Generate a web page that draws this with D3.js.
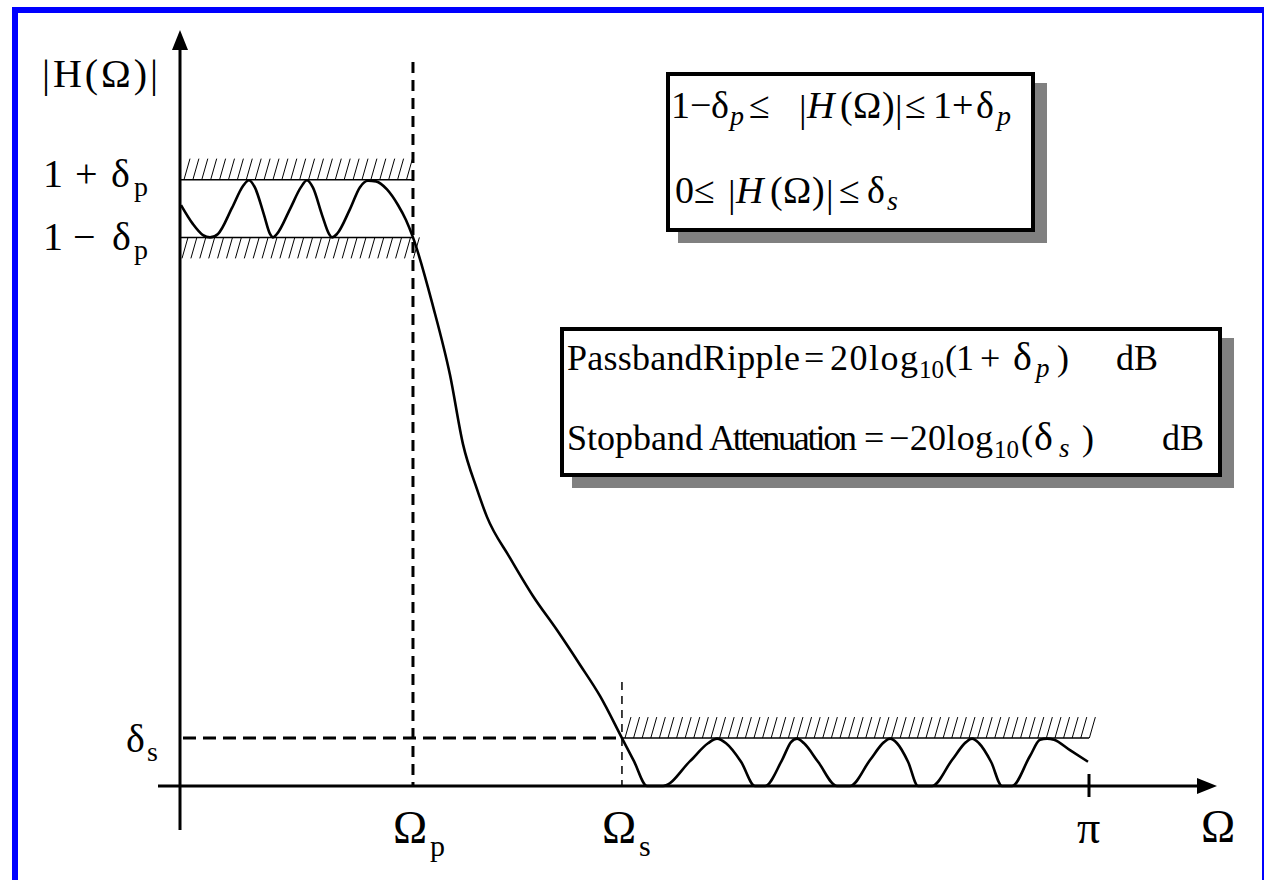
<!DOCTYPE html>
<html>
<head>
<meta charset="utf-8">
<script src="https://cdn.jsdelivr.net/npm/d3@7"></script>
<style>
  html, body { margin: 0; padding: 0; background: #fff; }
  svg { display: block; }
</style>
</head>
<body>
<svg id="chart" width="1264" height="880"></svg>
<script>
// Lowpass filter magnitude-response specification sketch.
// Frequency is expressed as a fraction of pi (0 .. 1).

const deltaP = 0.05;          // passband ripple
const deltaS = 0.083;         // stopband level
const omegaP = 0.2563;        // passband edge
const omegaS = 0.4862;        // stopband edge

// |H(Ω)| samples: passband ripples, transition band, stopband ripples
const responseFreq = [
  0.0011, 0.0143, 0.0253, 0.0330, 0.0418, 0.0572, 0.0693, 0.0759, 0.0825, 0.0924,
  0.0990, 0.1023, 0.1067, 0.1210, 0.1331, 0.1397, 0.1463, 0.1562, 0.1639, 0.1672,
  0.1727, 0.1870, 0.1980, 0.2068, 0.2156, 0.2277, 0.2398, 0.2486, 0.2563,
  0.2783, 0.2970, 0.3113, 0.3267, 0.3377, 0.3630, 0.3883, 0.4147, 0.4400, 0.4620, 0.4862,
  0.4994, 0.5138, 0.5314, 0.5611, 0.5809, 0.5908, 0.6007, 0.6172, 0.6326, 0.6436,
  0.6623, 0.6722, 0.6788, 0.6865, 0.7019, 0.7228, 0.7371, 0.7591, 0.7745, 0.7811,
  0.7888, 0.8009, 0.8119, 0.8273, 0.8493, 0.8647, 0.8713, 0.8790, 0.8922, 0.9043,
  0.9153, 0.9351, 0.9461, 0.9538, 0.9615, 0.9791, 0.9989
];
const responseMag = [
  1.006, 0.973, 0.954, 0.950, 0.956, 1.001, 1.039, 1.049, 1.036, 0.989,
  0.956, 0.950, 0.956, 0.999, 1.037, 1.049, 1.036, 0.989, 0.956, 0.950,
  0.956, 0.999, 1.037, 1.048, 1.047, 1.033, 1.006, 0.980, 0.950,
  0.831, 0.712, 0.592, 0.514, 0.466, 0.395, 0.329, 0.270, 0.210, 0.156, 0.083,
  0.043, 0.000, 0.000, 0.043, 0.074, 0.082, 0.074, 0.042, 0.000, 0.000,
  0.045, 0.076, 0.082, 0.074, 0.042, 0.000, 0.000, 0.045, 0.076, 0.082,
  0.074, 0.042, 0.000, 0.000, 0.045, 0.076, 0.082, 0.074, 0.042, 0.000,
  0.000, 0.052, 0.080, 0.082, 0.080, 0.062, 0.042
];

// Axis annotations
const xTickValues = [omegaP, omegaS, 1];
const xTickLabels = [["Ω", "p"], ["Ω", "s"], ["π", ""]];
const yTickValues = [1 + deltaP, 1 - deltaP, deltaS];
const yTickLabels = [["1", "+", "δ", "p"], ["1", "−", "δ", "p"], ["", "", "δ", "s"]];
const yAxisTitle = "|H(Ω)|";
const xAxisTitle = "Ω";

const FONT = "'Liberation Serif','Times New Roman',serif";

const svg = d3.select("#chart");

// frame
svg.append("rect")
  .attr("x", 15).attr("y", 10).attr("width", 1250).attr("height", 900)
  .attr("fill", "#fff").attr("stroke", "#0000ff").attr("stroke-width", 6);

const x = d3.scaleLinear().domain([0, 1]).range([180, 1089]);
const y = d3.scaleLinear().domain([0, 1]).range([786, 208.5]);

const x0 = x(0), y0 = y(0);

// --- tolerance bands -------------------------------------------------
const hatch = svg.append("g").attr("stroke", "#000").attr("stroke-width", 1);
function hatchBand(xa, xb, yBase, height, step, startOff) {
  const slant = 6;
  d3.range(xa + startOff, xb - 1, step).forEach(xi => {
    hatch.append("line")
      .attr("x1", xi).attr("y1", yBase)
      .attr("x2", xi + slant).attr("y2", yBase - height);
  });
}
// above 1+δp
hatchBand(x(0), x(omegaP) + 3, y(1 + deltaP), 21, 8.9, 4);
// below 1-δp
hatchBand(x(0), x(omegaP) + 3, y(1 - deltaP) + 21, 21, 8.9, 2);
// above δs in stopband
hatchBand(x(omegaS), x(1) + 2, y(deltaS), 21, 8.6, 3);

const bandLines = svg.append("g").attr("stroke", "#000").attr("stroke-width", 1.5);
[1 + deltaP, 1 - deltaP].forEach(v => {
  bandLines.append("line")
    .attr("x1", x(0)).attr("x2", x(omegaP))
    .attr("y1", y(v)).attr("y2", y(v));
});
bandLines.append("line")
  .attr("x1", x(omegaS)).attr("x2", x(1))
  .attr("y1", y(deltaS)).attr("y2", y(deltaS));

// --- guide lines ---------------------------------------------------
svg.append("line")
  .attr("x1", x(omegaP)).attr("x2", x(omegaP))
  .attr("y1", 62).attr("y2", y0)
  .attr("stroke", "#000").attr("stroke-width", 3).attr("stroke-dasharray", "11,7");
svg.append("line")
  .attr("x1", x0 + 3).attr("x2", x(omegaS))
  .attr("y1", y(deltaS)).attr("y2", y(deltaS))
  .attr("stroke", "#000").attr("stroke-width", 3).attr("stroke-dasharray", "13,7");
svg.append("line")
  .attr("x1", x(omegaS)).attr("x2", x(omegaS))
  .attr("y1", 682).attr("y2", y0)
  .attr("stroke", "#000").attr("stroke-width", 1.5).attr("stroke-dasharray", "8,6");

// --- axes ------------------------------------------------------------
const axes = svg.append("g").attr("stroke", "#000").attr("stroke-width", 3);
axes.append("line").attr("x1", x0).attr("x2", x0).attr("y1", 46).attr("y2", 830);
axes.append("line").attr("x1", 158).attr("x2", 1200).attr("y1", y0).attr("y2", y0);
svg.append("path")
  .attr("d", `M${x0},30 L${x0 - 8},50 L${x0 + 8},50 Z`).attr("fill", "#000");
svg.append("path")
  .attr("d", `M1217,${y0} L1197,${y0 - 8} L1197,${y0 + 8} Z`).attr("fill", "#000");
// tick at π
axes.append("line").attr("x1", x(1)).attr("x2", x(1))
  .attr("y1", y0 - 12).attr("y2", y0 + 11);

// --- response curve -----------------------------------------------
const pts = responseFreq.map((f, i) => [f, responseMag[i]]);
const line = d3.line().x(d => x(d[0])).y(d => y(d[1])).curve(d3.curveMonotoneX);
svg.append("path")
  .attr("d", line(pts))
  .attr("fill", "none").attr("stroke", "#000").attr("stroke-width", 2.6)
  .attr("stroke-linejoin", "round");

// --- text helpers ----------------------------------------------------
function addText(parent, baseY, parts, size) {
  const t = parent.append("text")
    .attr("font-family", FONT).attr("font-size", size).attr("fill", "#000");
  parts.forEach(p => {
    const ts = t.append("tspan")
      .attr("x", p.x).attr("y", baseY + (p.dy || 0))
      .text(p.t);
    if (p.size) ts.attr("font-size", p.size);
    if (p.italic) ts.attr("font-style", "italic");
    if (p.len) ts.attr("textLength", p.len).attr("lengthAdjust", "spacing");
  });
  return t;
}

// y axis title
svg.append("text")
  .attr("x", 42).attr("y", 87)
  .attr("font-family", FONT).attr("font-size", 40)
  .attr("textLength", 116).attr("lengthAdjust", "spacing")
  .text(yAxisTitle);

// y tick labels
const yLabelX = [[43, 75, 111, 134], [43, 73, 112, 134], [0, 0, 126, 147]];
const yLabelDy = [7.5, 12.5, 14];
yTickValues.forEach((v, i) => {
  const [a, op, d, sub] = yTickLabels[i];
  const xs = yLabelX[i];
  const by = y(v) + yLabelDy[i];
  const parts = [];
  if (a) parts.push({ t: a, x: xs[0] });
  if (op) parts.push({ t: op, x: xs[1] });
  parts.push({ t: d, x: xs[2] });
  parts.push({ t: sub, x: xs[3], dy: 9, size: 28 });
  addText(svg, by, parts, 40);
});

// x tick labels
xTickValues.forEach((v, i) => {
  const [main, sub] = xTickLabels[i];
  const cx = x(v);
  const parts = [{ t: main, x: cx - 20 + (sub ? 0 : 8) }];
  if (sub) parts.push({ t: sub, x: cx + 17, dy: 13, size: 30 });
  addText(svg, 843, parts, 46);
});

// x axis title
addText(svg, 842, [{ t: xAxisTitle, x: 1201 }], 46);

// --- specification boxes --------------------------------------------
function box(x1, y1, x2, y2) {
  svg.append("rect")
    .attr("x", x1 + 12).attr("y", y1 + 11)
    .attr("width", x2 - x1).attr("height", y2 - y1)
    .attr("fill", "#808080");
  svg.append("rect")
    .attr("x", x1 + 2).attr("y", y1 + 2)
    .attr("width", x2 - x1 - 4).attr("height", y2 - y1 - 4)
    .attr("fill", "#fff").attr("stroke", "#000").attr("stroke-width", 4);
}

box(666, 72, 1035, 232);
const bar = { dy: 4 };
addText(svg, 118, [
  { t: "1", x: 671 }, { t: "−", x: 690 }, { t: "δ", x: 711 },
  { t: "p", x: 730, dy: 7, size: 28, italic: true },
  { t: "≤", x: 749 },
  { t: "|", x: 799, ...bar }, { t: "H", x: 807, italic: true },
  { t: "(", x: 840 }, { t: "Ω", x: 853 }, { t: ")", x: 882 },
  { t: "|", x: 895, ...bar },
  { t: "≤", x: 905 }, { t: "1", x: 933 }, { t: "+", x: 952 }, { t: "δ", x: 976 },
  { t: "p", x: 997, dy: 7, size: 28, italic: true }
], 38);
addText(svg, 203, [
  { t: "0", x: 675 }, { t: "≤", x: 694 },
  { t: "|", x: 728, ...bar }, { t: "H", x: 736, italic: true },
  { t: "(", x: 770 }, { t: "Ω", x: 783 }, { t: ")", x: 812 },
  { t: "|", x: 826, ...bar },
  { t: "≤", x: 839 }, { t: "δ", x: 867 },
  { t: "s", x: 887, dy: 7, size: 28, italic: true }
], 38);

box(560, 327, 1222, 477);
addText(svg, 370, [
  { t: "PassbandRipple", x: 567, len: 233 }, { t: "=", x: 804 },
  { t: "20log", x: 830, len: 88 },
  { t: "10", x: 919, dy: 8, size: 25 },
  { t: "(", x: 945 }, { t: "1", x: 956 }, { t: "+", x: 980 }, { t: "δ", x: 1013, size: 40 },
  { t: "p", x: 1036, dy: 7, size: 27, italic: true },
  { t: ")", x: 1057 }, { t: "dB", x: 1116 }
], 36);
addText(svg, 450, [
  { t: "Stopband", x: 567 }, { t: "Attenuation", x: 709, len: 148 },
  { t: "=", x: 864 }, { t: "−20log", x: 889, len: 104 },
  { t: "10", x: 994, dy: 8, size: 25 },
  { t: "(", x: 1021 }, { t: "δ", x: 1034, size: 40 },
  { t: "s", x: 1059, dy: 7, size: 27, italic: true },
  { t: ")", x: 1082 }, { t: "dB", x: 1162 }
], 36);
</script>
</body>
</html>
